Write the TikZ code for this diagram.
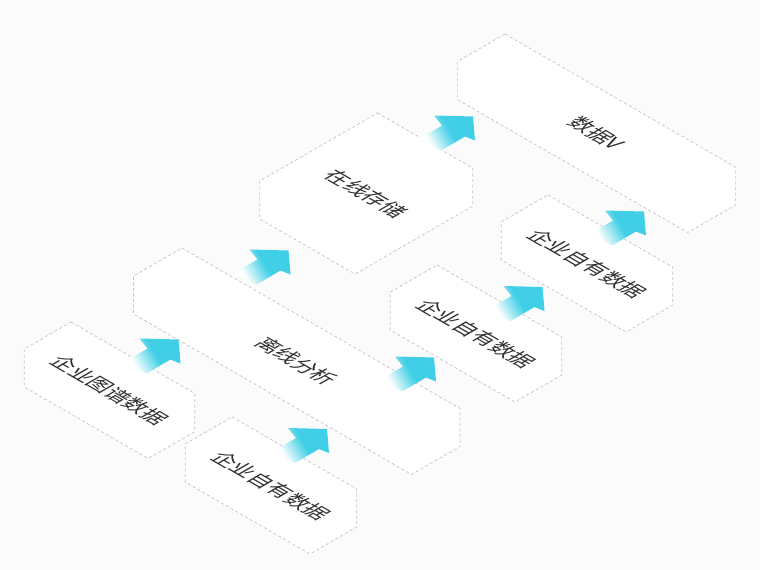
\documentclass[tikz,border=0pt]{standalone}
\usepackage{fontspec}
\usepackage{tikz}
\usetikzlibrary{calc}
\newfontfamily\cjk{Noto Sans CJK SC}
\definecolor{gxbg}{HTML}{FBFBFB}
\definecolor{gxline}{HTML}{C4C4C4}
\definecolor{gxtext}{HTML}{2E2E2E}
\definecolor{gxcyan}{HTML}{40CFE6}
\pgfdeclarehorizontalshading{gxfade}{100bp}{color(0bp)=(white); color(30bp)=(white); color(54bp)=(gxcyan); color(100bp)=(gxcyan)}

% isometric slab: name, top x, top y, length, width, label
\newcommand{\isotile}[6]{%
  \begin{scope}[shift={(#2,#3)}, x={(0.866pt,-0.5pt)}, y={(-0.866pt,-0.5pt)}]
    \draw[tile] (0,0) -- (#4,0) -- ++(0pt,-38pt) -- ++(0,#5) -- ++(-#4,0) -- (0,#5) -- cycle;
    \node[lbl] (#1) at ($(#4/2,#5/2)+(0pt,-19pt)$) {#6};
  \end{scope}}
% flat arrow lying on the floor, tip at (x,y)
\newcommand{\isoarrow}[2]{%
  \shade[arr] (#1,#2) -- ++(2,24) -- ++(-10,-4) -- ++(-24,14) -- ++(-23,-11) -- ++(24,-14) -- ++(-8,-10) -- cycle;}

\begin{document}
\begin{tikzpicture}[
  x=1pt, y=-1pt,
  tile/.style={draw=gxline, fill=white, line width=0.7pt, dash pattern=on 3pt off 2.5pt},
  lbl/.style={inner sep=0pt, text=gxtext, font=\cjk\fontsize{21}{25}\selectfont, cm={0.866,-0.5,0.866,0.5,(0,0)}},
  arr/.style={shading=gxfade, shading angle=30}
]
\fill[gxbg] (0,0) rectangle (760,570);
\useasboundingbox (0,0) rectangle (760,570);
% back row first
\isotile{sv}{505}{34}{266}{55}{数据V}
\isotile{zx}{377.5}{113}{110}{136}{在线存储}
\isotile{zy3}{548}{195}{144}{54}{企业自有数据}
\isotile{zy2}{437}{265}{144}{54}{企业自有数据}
\isotile{lx}{182}{248}{321}{56}{离线分析}
\isotile{tp}{71}{322}{143}{54}{企业图谱数据}
\isotile{zy1}{232}{417}{144}{54}{企业自有数据}
% arrows
\isoarrow{178.5}{339.5}
\isoarrow{288.5}{250.5}
\isoarrow{473}{116.5}
\isoarrow{327}{429}
\isoarrow{434}{357.5}
\isoarrow{542.5}{287}
\isoarrow{644}{211.5}
\end{tikzpicture}
\end{document}
